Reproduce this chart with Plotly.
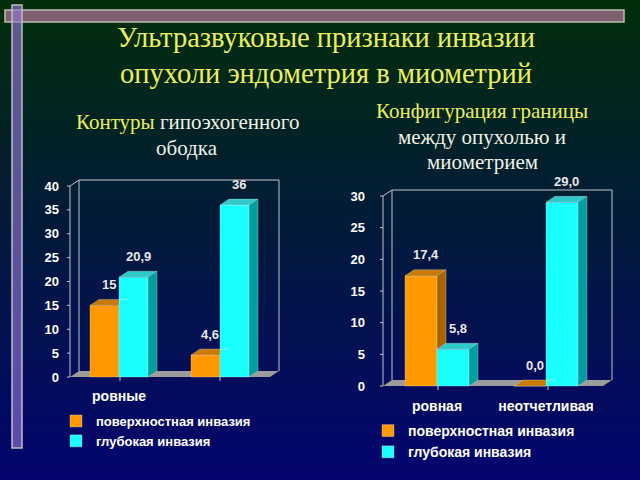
import plotly.graph_objects as go

# ---------------- data ----------------
title_lines = ["Ультразвуковые признаки инвазии", "опухоли эндометрия в миометрий"]
left_subtitle = ["Контуры", "гипоэхогенного", "ободка"]
right_subtitle = ["Конфигурация границы", "между опухолью и", "миометрием"]
series_names = ["поверхностная инвазия", "глубокая инвазия"]

left_categories = ["ровные", ""]
left_superficial = [15, 4.6]
left_deep = [20.9, 36]
left_superficial_text = ["15", "4,6"]
left_deep_text = ["20,9", "36"]
left_yticks = [0, 5, 10, 15, 20, 25, 30, 35, 40]

right_categories = ["ровная", "неотчетливая"]
right_superficial = [17.4, 0.0]
right_deep = [5.8, 29.0]
right_superficial_text = ["17,4", "0,0"]
right_deep_text = ["5,8", "29,0"]
right_yticks = [0, 5, 10, 15, 20, 25, 30]

# ---------------- styling / geometry ----------------
W, H = 640, 480
ORANGE = dict(front="#FF9900", top="#C97A00", side="#A86400")
CYAN = dict(front="#19FFFF", top="#2FC9C9", side="#009E9E")
EDGE = "rgba(225,225,225,0.55)"
YELLOW = "#EEEE5A"
WHITE_T = "#F2F2E6"
LABEL = "#E8E8E8"
BOLD = dict(family="Liberation Sans, Arial, sans-serif", weight="bold")

charts = [
    dict(ax="", cats=left_categories, s1=left_superficial, s2=left_deep,
         t1=left_superficial_text, t2=left_deep_text, yt=left_yticks,
         c0=119, s=101, y0=377, k=4.775, dxp=9, dyp=6, domx=(60, 292),
         domy=(160, 386), fl=70, fr=270, barw=29, legend="legend",
         tick_size=13, cat_size=14, val_size=13),
    dict(ax="2", cats=right_categories, s1=right_superficial, s2=right_deep,
         t1=right_superficial_text, t2=right_deep_text, yt=right_yticks,
         c0=437, s=109, y0=386, k=6.333, dxp=9, dyp=6, domx=(366, 620),
         domy=(170, 396), fl=383, fr=603, barw=32, legend="legend2",
         tick_size=13, cat_size=14, val_size=13),
]

fig = go.Figure()
shapes = []
annotations = []

# background gradient (dark green -> navy)
top_c = (2, 46, 10)
bot_c = (3, 4, 112)
n = 60
for i in range(n):
    t = (i + 0.5) / n
    c = tuple(int(round(top_c[j] + (bot_c[j] - top_c[j]) * t)) for j in range(3))
    shapes.append(dict(type="rect", xref="paper", yref="paper", layer="below",
                       x0=0, x1=1, y0=1 - (i + 1) / n - 0.002, y1=1 - i / n,
                       fillcolor="rgb(%d,%d,%d)" % c, line=dict(width=0)))


def poly(xs, ys, color, xa, ya):
    return go.Scatter(x=list(xs) + [xs[0]], y=list(ys) + [ys[0]], mode="lines",
                      fill="toself", fillcolor=color,
                      line=dict(color=EDGE, width=0.6),
                      xaxis=xa, yaxis=ya, showlegend=False, hoverinfo="skip")


layout_axes = {}
for ch in charts:
    xa, ya = "x" + ch["ax"], "y" + ch["ax"]
    s, k = ch["s"], ch["k"]
    dx, dy = ch["dxp"] / s, ch["dyp"] / k
    w = ch["barw"] / s
    uL, uR = (ch["fl"] - ch["c0"]) / s, (ch["fr"] - ch["c0"]) / s
    vmax = max(ch["yt"])
    xr = [(ch["domx"][0] - ch["c0"]) / s, (ch["domx"][1] - ch["c0"]) / s]
    yr = [(ch["y0"] - ch["domy"][1]) / k, (ch["y0"] - ch["domy"][0]) / k]
    idx = list(range(len(ch["cats"])))

    # floor & walls
    shapes.append(dict(type="path", xref=xa, yref=ya, layer="below",
                       path="M %f,0 L %f,0 L %f,%f L %f,%f Z" % (uL, uR, uR + dx, dy, uL + dx, dy),
                       fillcolor="#9C9C9C", line=dict(width=0)))
    wall = "M %f,0 L %f,%f L %f,%f L %f,%f L %f,%f" % (
        uL, uL, vmax, uL + dx, vmax + dy, uR + dx, vmax + dy, uR + dx, dy)
    wall += " M %f,%f L %f,%f" % (uL + dx, dy, uL + dx, vmax + dy)
    tl = 3 / s
    for v in ch["yt"]:
        wall += " M %f,%f L %f,%f" % (uL - tl, v, uL, v)
    # small category-boundary ticks under the floor
    for b in (0.5, 1.5):
        bx = uL + (uR - uL) * b / 2
        wall += " M %f,0 L %f,%f" % (bx, bx, -4 / k)
    shapes.append(dict(type="path", xref=xa, yref=ya, layer="below", path=wall,
                       line=dict(color="#C4C4CC", width=1)))

    xo = [i - w / 2 for i in idx]
    xc = [i + w / 2 for i in idx]
    fig.add_trace(go.Bar(x=xo, y=ch["s1"], width=w, name=series_names[0],
                         marker=dict(color=ORANGE["front"], line=dict(color=EDGE, width=0.6)),
                         xaxis=xa, yaxis=ya, legend=ch["legend"], hoverinfo="skip"))
    fig.add_trace(go.Bar(x=xc, y=ch["s2"], width=w, name=series_names[1],
                         marker=dict(color=CYAN["front"], line=dict(color=EDGE, width=0.6)),
                         xaxis=xa, yaxis=ya, legend=ch["legend"], hoverinfo="skip"))

    for i in idx:
        vo, vc = ch["s1"][i], ch["s2"][i]
        x0, x1 = i - w, i
        x2 = i + w
        # orange top (clipped by the cyan front face where it is taller)
        if vc > vo:
            vcap = min(vc, vo + dy)
            t = (vcap - vo) / dy
            fig.add_trace(poly([x0, x1, x1, x1 + dx * t, x1 + dx, x0 + dx],
                               [vo, vo, vcap, vcap, vo + dy, vo + dy], ORANGE["top"], xa, ya))
        else:
            fig.add_trace(poly([x0, x1, x1 + dx, x0 + dx],
                               [vo, vo, vo + dy, vo + dy], ORANGE["top"], xa, ya))
        # orange side (only the part above the cyan bar)
        if vo > vc:
            fig.add_trace(poly([x1, x1, x1 + dx, x1 + dx],
                               [vc, vo, vo + dy, vc + dy], ORANGE["side"], xa, ya))
        # cyan top & side
        fig.add_trace(poly([x1, x2, x2 + dx, x1 + dx],
                           [vc, vc, vc + dy, vc + dy], CYAN["top"], xa, ya))
        if vc > 0:
            fig.add_trace(poly([x2, x2, x2 + dx, x2 + dx],
                               [0, vc, vc + dy, dy], CYAN["side"], xa, ya))
        # value labels
        for xcen, v, txt in ((i - w / 2, vo, ch["t1"][i]), (i + w / 2, vc, ch["t2"][i])):
            annotations.append(dict(x=xcen + dx / 2, y=v + dy, xref=xa, yref=ya,
                                    text=txt, showarrow=False, yanchor="middle", yshift=15,
                                    font=dict(size=ch["val_size"], color=LABEL, **BOLD)))

    key = ch["ax"]
    layout_axes["xaxis" + key] = dict(
        domain=[ch["domx"][0] / W, ch["domx"][1] / W], range=xr, anchor=ya,
        tickvals=idx, ticktext=ch["cats"], showgrid=False, zeroline=False,
        showline=False, ticks="", fixedrange=True,
        tickfont=dict(size=ch["cat_size"], color="white", **BOLD))
    layout_axes["yaxis" + key] = dict(
        domain=[1 - ch["domy"][1] / H, 1 - ch["domy"][0] / H], range=yr, anchor=xa,
        tickvals=ch["yt"], showgrid=False, zeroline=False, showline=False,
        ticks="", fixedrange=True,
        tickfont=dict(size=ch["tick_size"], color="white", **BOLD))

# decorative frame bars
shapes.append(dict(type="rect", xref="paper", yref="paper", layer="above",
                   x0=5 / W, x1=624 / W, y0=1 - 22 / H, y1=1 - 10 / H,
                   fillcolor="#7E6070", line=dict(color="#BDBDAE", width=1.5)))
shapes.append(dict(type="rect", xref="paper", yref="paper", layer="above",
                   x0=12 / W, x1=22 / W, y0=1 - 448 / H, y1=1 - 5 / H,
                   fillcolor="rgba(150,118,215,0.62)", line=dict(color="#BDBDC8", width=1.5)))

SERIF = "Liberation Serif, Times New Roman, serif"
# main title
for text, y in zip(title_lines, (38, 73)):
    annotations.append(dict(x=326 / W, y=1 - y / H, xref="paper", yref="paper",
                            text=text, showarrow=False, xanchor="center", yanchor="middle",
                            font=dict(family=SERIF, size=28.5, color=YELLOW)))
# subtitles
sub_left = ["<span style='color:%s'>%s</span> %s" % (YELLOW, left_subtitle[0], left_subtitle[1]),
            left_subtitle[2]]
for text, y in zip(sub_left, (122, 148)):
    annotations.append(dict(x=187 / W, y=1 - y / H, xref="paper", yref="paper",
                            text=text, showarrow=False, xanchor="center", yanchor="middle",
                            font=dict(family=SERIF, size=21, color=WHITE_T)))
sub_right = ["<span style='color:%s'>%s</span>" % (YELLOW, right_subtitle[0]),
             right_subtitle[1], right_subtitle[2]]
for text, y in zip(sub_right, (111, 137, 162)):
    annotations.append(dict(x=482 / W, y=1 - y / H, xref="paper", yref="paper",
                            text=text, showarrow=False, xanchor="center", yanchor="middle",
                            font=dict(family=SERIF, size=21, color=WHITE_T)))

legend_common = dict(xanchor="left", yanchor="top", bgcolor="rgba(0,0,0,0)",
                     borderwidth=0, tracegroupgap=0, itemclick=False, itemdoubleclick=False)

fig.update_layout(
    width=W, height=H, margin=dict(l=0, r=0, t=0, b=0),
    paper_bgcolor="#031a50", plot_bgcolor="rgba(0,0,0,0)",
    barmode="overlay", showlegend=True,
    shapes=shapes, annotations=annotations,
    legend=dict(x=56 / W, y=1 - 406 / H,
                font=dict(size=13, color="white", **BOLD), **legend_common),
    legend2=dict(x=368 / W, y=1 - 415 / H,
                 font=dict(size=14, color="white", **BOLD), **legend_common),
    **layout_axes,
)

fig.write_html("out.html")
